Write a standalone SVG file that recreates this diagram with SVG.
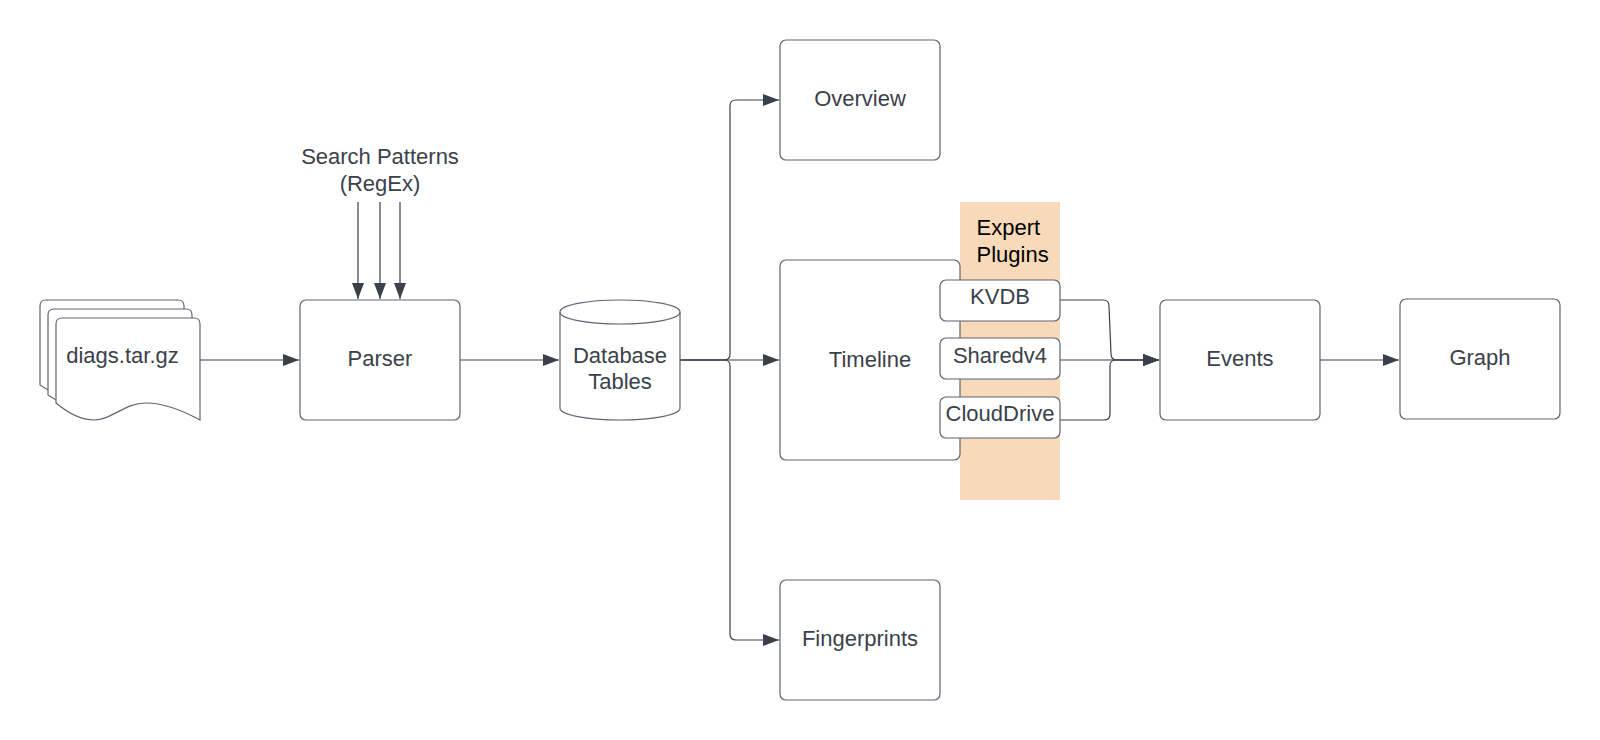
<svg xmlns="http://www.w3.org/2000/svg" width="1600" height="740" viewBox="0 0 1600 740">
<style>
.s{fill:#fff;stroke:#5e6570;stroke-width:1.2}
.n{fill:none;stroke:#5e6570;stroke-width:1.2}
.c{fill:none;stroke:#3a414a;stroke-width:1.2}
.t{font-family:"Liberation Sans",Arial,sans-serif;font-size:22px;fill:#3a414a;text-anchor:middle}
.k{fill:#000;text-anchor:start}
</style>
<defs>
<marker id="a" markerUnits="userSpaceOnUse" markerWidth="16" markerHeight="12" refX="16" refY="6" orient="auto"><path d="M0 0L16 6L0 12Z" fill="#3a414a"/></marker>
</defs>
<rect width="1600" height="740" fill="#fff"/>
<rect id="plugin-band" x="960" y="202" width="100" height="298" fill="#f8d9b9"/>
<g id="connectors">
<path class="c" d="M200 360H299" marker-end="url(#a)"/>
<path class="c" d="M358 202V299" marker-end="url(#a)"/>
<path class="c" d="M380 202V299" marker-end="url(#a)"/>
<path class="c" d="M400 202V299" marker-end="url(#a)"/>
<path class="c" d="M460 360H559" marker-end="url(#a)"/>
<path class="c" d="M680 360H779" marker-end="url(#a)"/>
<path class="c" d="M680 360H724Q730 360 730 354V106Q730 100 736 100H779" marker-end="url(#a)"/>
<path class="c" d="M680 360H724Q730 360 730 366V634Q730 640 736 640H779" marker-end="url(#a)"/>
<path class="c" d="M1060 300H1103Q1109 300 1109 306L1111 354Q1111 360 1117 360H1159" marker-end="url(#a)"/>
<path class="c" d="M1060 360H1159" marker-end="url(#a)"/>
<path class="c" d="M1060 420H1104Q1110 420 1110 414V366Q1110 360 1116 360H1159" marker-end="url(#a)"/>
<path class="c" d="M1320 360H1399" marker-end="url(#a)"/>
</g>
<g id="diags">
<path class="s" d="M40 306Q40 300 46 300H178Q184 300 184 306V390H48L40 385Z"/>
<path class="s" d="M48 315Q48 309 54 309H186Q192 309 192 315V400H56L48 395Z"/>
<path class="s" d="M56 324Q56 318 62 318H194Q200 318 200 324V420C178 408 160 403 146 403C124 403 112 420 94 420C80 420 68 413 56 403Z"/>
<text class="t" x="122.500" y="363">diags.tar.gz</text>
</g>
<g id="search-patterns">
<text class="t" x="380" y="164">Search Patterns</text>
<text class="t" x="380" y="191">(RegEx)</text>
</g>
<g id="parser">
<rect class="s" x="300" y="300" width="160" height="120" rx="6"/>
<text class="t" x="380" y="366">Parser</text>
</g>
<g id="database">
<path class="s" d="M560 312C560 305 587 300 620 300S680 305 680 312V408C680 415 653 420 620 420S560 415 560 408Z"/>
<path class="n" d="M560 312C560 319 587 324 620 324S680 319 680 312"/>
<text class="t" x="620" y="363">Database</text>
<text class="t" x="620" y="389">Tables</text>
</g>
<g id="overview">
<rect class="s" x="780" y="40" width="160" height="120" rx="6"/>
<text class="t" x="860" y="106">Overview</text>
</g>
<g id="timeline">
<rect class="s" x="780" y="260" width="180" height="200" rx="6"/>
<text class="t" x="870" y="367">Timeline</text>
</g>
<g id="fingerprints">
<rect class="s" x="780" y="580" width="160" height="120" rx="6"/>
<text class="t" x="860" y="646">Fingerprints</text>
</g>
<g id="expert-plugins">
<text class="t k" x="976.500" y="235">Expert</text>
<text class="t k" x="976.500" y="262">Plugins</text>
</g>
<g id="kvdb">
<rect class="s" x="940" y="280" width="120" height="41" rx="6"/>
<text class="t" x="1000" y="304">KVDB</text>
</g>
<g id="sharedv4">
<rect class="s" x="940" y="338" width="120" height="41" rx="6"/>
<text class="t" x="1000" y="363">Sharedv4</text>
</g>
<g id="clouddrive">
<rect class="s" x="940" y="397" width="120" height="41" rx="6"/>
<text class="t" x="1000" y="421">CloudDrive</text>
</g>
<g id="events">
<rect class="s" x="1160" y="300" width="160" height="120" rx="6"/>
<text class="t" x="1240" y="366">Events</text>
</g>
<g id="graph">
<rect class="s" x="1400" y="299" width="160" height="120" rx="6"/>
<text class="t" x="1480" y="365">Graph</text>
</g>
</svg>
